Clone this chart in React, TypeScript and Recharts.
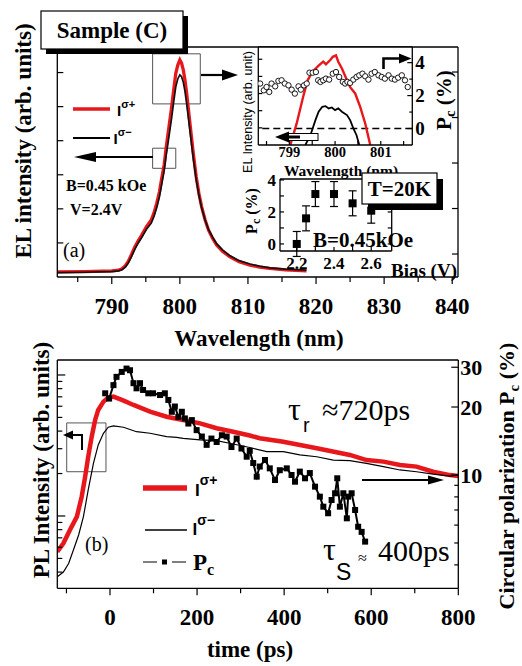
import React from 'react';
import { ComposedChart, Line, Scatter, XAxis, YAxis, ReferenceArea, ReferenceLine, ErrorBar } from 'recharts';

const SERIF = "'Liberation Serif','Times New Roman',Times,serif";
const SANS = "'Liberation Sans',Arial,Helvetica,sans-serif";
const RED = '#e8171c';

// ---------- Panel (a): EL spectrum ----------
const elWavelength = [782, 786, 790, 791, 791.5, 792, 792.4, 792.9, 793.4, 793.9, 794.4, 795.1, 795.8, 796.2, 796.6, 797.0, 797.3, 797.7, 798.0, 798.4, 798.8, 799.1, 799.4, 799.7, 800.0, 800.25, 800.5, 800.75, 801.0, 801.35, 801.7, 802.0, 802.4, 802.8, 803.2, 803.7, 804.2, 804.8, 805.4, 806.3, 807.3, 808.7, 810.3, 811.7, 813.2, 815.5, 818.6];
const elSigmaPlus = [0.15, 0.16, 0.18, 0.2, 0.24, 0.33, 0.45, 0.66, 0.89, 1.07, 1.23, 1.48, 1.67, 1.88, 2.16, 2.5, 2.85, 3.3, 3.82, 4.4, 5.0, 5.5, 5.98, 6.22, 6.37, 6.28, 6.08, 5.78, 5.39, 4.75, 4.12, 3.58, 2.94, 2.45, 2.06, 1.68, 1.38, 1.14, 0.94, 0.75, 0.6, 0.45, 0.35, 0.29, 0.25, 0.21, 0.18];
const elSigmaMinus = [0.13, 0.14, 0.16, 0.18, 0.21, 0.29, 0.4, 0.6, 0.82, 1.0, 1.16, 1.4, 1.58, 1.78, 2.03, 2.35, 2.68, 3.12, 3.58, 4.12, 4.68, 5.15, 5.58, 5.82, 5.93, 5.88, 5.72, 5.45, 5.08, 4.5, 3.92, 3.44, 2.86, 2.4, 2.03, 1.68, 1.4, 1.17, 0.98, 0.79, 0.63, 0.48, 0.38, 0.32, 0.27, 0.23, 0.2];
const elXTicks = [785, 790, 795, 800, 805, 810, 815, 820, 825, 830, 835, 840];
const elXLabels = [790, 800, 810, 820, 830, 840];
const elLeftTicks = [1, 2, 3, 4, 5, 6];
const elRightTicks = [0, 1, 2, 3, 4];

// ---------- Inset: zoom on the peak ----------
const zoomRedWl = [799.02, 799.16, 799.3, 799.4, 799.5, 799.64, 799.74, 799.8, 799.9, 799.95, 800.02, 800.07, 800.15, 800.26, 800.33, 800.44, 800.55, 800.66, 800.77];
const zoomRedI = [0, 22, 49, 66, 74.5, 81, 85, 82.4, 87, 90, 91.5, 85, 78, 66, 59, 52.6, 39, 22, 0];
const zoomBlackWl = [799.35, 799.46, 799.57, 799.64, 799.72, 799.79, 799.86, 799.93, 800.0, 800.07, 800.15, 800.26, 800.33, 800.4, 800.47, 800.53];
const zoomBlackI = [0, 10, 25.4, 34, 39, 39.7, 37.3, 38.3, 35.6, 37.3, 34, 30.5, 25.4, 17, 10, 0];
const zoomPcWl = [798.36, 798.44, 798.5, 798.56, 798.61, 798.69, 798.76, 798.83, 798.9, 798.98, 799.05, 799.12, 799.2, 799.25, 799.32, 799.38, 799.44, 799.51, 799.58, 799.63, 799.68, 799.74, 799.8, 799.87, 799.95, 800.02, 800.09, 800.17, 800.22, 800.27, 800.33, 800.4, 800.47, 800.53, 800.6, 800.66, 800.73, 800.8, 800.87, 800.95, 801.02, 801.09, 801.17, 801.24, 801.31, 801.38, 801.46, 801.53, 801.59];
const zoomPc = [2.73, 2.32, 2.52, 2.22, 2.73, 2.56, 2.89, 2.93, 2.73, 2.62, 2.36, 2.12, 2.56, 2.36, 2.62, 2.73, 3.39, 3.39, 3.43, 2.93, 2.83, 2.93, 3.03, 2.97, 3.33, 3.43, 3.13, 2.83, 2.73, 2.83, 2.77, 2.97, 3.13, 3.23, 3.33, 3.17, 2.97, 3.33, 3.43, 3.23, 3.13, 3.03, 3.23, 3.03, 2.97, 3.09, 3.23, 2.93, 2.52];
const zoomXTicks = [798.5, 799, 799.5, 800, 800.5, 801, 801.5];
const zoomXLabels = [799, 800, 801];
const zoomPcTicks = [0, 1, 2, 3, 4];
const zoomPcLabels = [0, 2, 4];
const zoomITicks = [17.5, 35, 52.5, 70, 87.5];

// ---------- Inset: Pc vs bias ----------
const biasV = [2.2, 2.25, 2.3, 2.4, 2.5, 2.6];
const biasPc = [0, 1.6, 3.12, 3.12, 2.54, 2.08];
const biasErr = [0.78, 0.78, 0.78, 0.78, 0.78, 0.78];
const biasXTicks = [2.2, 2.3, 2.4, 2.5, 2.6];
const biasXLabels = [2.2, 2.4, 2.6];
const biasYTicks = [0, 1, 2, 3, 4];
const biasYLabels = [0, 2, 4];

// ---------- Panel (b): time resolved PL ----------
const trTimePlus = [-121, -107, -92, -76, -65, -57, -50, -42, -34, -27, -15, -4, 8, 30, 54, 92, 130, 168, 207, 245, 283, 321, 344, 398, 475, 551, 589, 628, 666, 704, 742, 781, 800];
const trPlus = [0.558, 0.64, 0.796, 0.99, 1.37, 1.9, 2.63, 3.65, 4.8, 5.65, 6.47, 6.91, 7.02, 6.6, 6.13, 5.5, 5.06, 4.8, 4.54, 4.19, 3.96, 3.72, 3.56, 3.36, 3.02, 2.71, 2.49, 2.43, 2.3, 2.24, 2.06, 1.95, 1.92];
const trTimeMinus = [-121, -107, -95, -84, -72, -61, -50, -38, -27, -15, -4, 8, 31, 61, 92, 130, 153, 168, 207, 245, 283, 321, 360, 398, 436, 475, 513, 551, 589, 628, 666, 704, 742, 781, 800];
const trMinus = [0.37, 0.4, 0.46, 0.574, 0.733, 0.99, 1.53, 2.36, 3.19, 3.86, 4.26, 4.35, 4.26, 3.96, 3.86, 3.65, 3.61, 3.55, 3.46, 3.42, 3.24, 3.06, 2.86, 2.86, 2.71, 2.63, 2.49, 2.47, 2.36, 2.24, 2.12, 2.06, 1.98, 1.92, 1.95];
const pcTime = [-11, -2, 8, 15, 27, 38, 46, 54, 61, 69, 76, 88, 99, 115, 126, 134, 142, 149, 157, 165, 172, 180, 188, 199, 211, 222, 233, 245, 257, 268, 279, 291, 302, 314, 321, 329, 337, 344, 356, 367, 379, 390, 406, 417, 425, 436, 448, 459, 471, 482, 490, 501, 509, 517, 522, 528, 536, 544, 547, 555, 563, 570, 578, 586];
const pcValue = [23, 21.8, 25, 27.2, 28.6, 29.6, 29.1, 25.5, 24.2, 25.5, 23.8, 23, 23, 22.6, 23, 21.5, 19.05, 20.1, 18.1, 19.05, 17.8, 16.9, 17.5, 15.8, 14.8, 13.6, 14.5, 14.0, 15.0, 14.8, 13.3, 14.5, 13.1, 12.05, 12.8, 11.3, 9.83, 10.9, 11.65, 10.7, 9.5, 10.5, 10.7, 10, 9.34, 10.35, 9.67, 10.2, 8.88, 8.02, 7.24, 6.77, 7.75, 8.3, 9.67, 7.24, 8.3, 6.43, 8.02, 8.3, 7.0, 5.9, 5.6, 5.07];
const trXTicks = [-100, 0, 100, 200, 300, 400, 500, 600, 700, 800];
const trXLabels = [0, 200, 400, 600, 800];
const trLeftTicks = [0.4, 0.5, 0.6, 0.7, 0.8, 0.9, 1, 2, 3, 4, 5, 6, 7, 8, 9, 10];
const trRightTicks = [4, 5, 6, 7, 8, 9, 10, 20, 30];
const trRightLabels = [10, 20, 30];

const zip = (xs: number[], ys: number[]) => xs.map((x, i) => ({ x, y: ys[i] }));
const has = (arr: number[], v: number) => arr.some((a) => Math.abs(a - v) < 1e-6);

type TickCfg = {
  side: 'b' | 't' | 'l' | 'r';
  len: (v: number) => number; // positive = outward
  labels?: number[];
  fmt?: (v: number) => string;
  size?: number;
  gap?: number;
};

function makeTick(c: TickCfg) {
  return (p: any) => {
    const v = Number(p.payload && p.payload.value);
    const L = c.len(v);
    const x = p.x;
    const y = p.y;
    let x2 = x;
    let y2 = y;
    if (c.side === 'b') y2 = y + L;
    else if (c.side === 't') y2 = y - L;
    else if (c.side === 'l') x2 = x - L;
    else x2 = x + L;
    let txt: any = null;
    if (c.labels && has(c.labels, v)) {
      const s = c.fmt ? c.fmt(v) : String(v);
      const common = { fontFamily: SERIF, fontWeight: 'bold', fontSize: c.size || 20, fill: '#000' } as any;
      if (c.side === 'b') txt = <text x={x} y={y + (c.gap || 0)} textAnchor="middle" {...common}>{s}</text>;
      else if (c.side === 'l') txt = <text x={x - (c.gap || 0)} y={y} dy="0.35em" textAnchor="end" {...common}>{s}</text>;
      else if (c.side === 'r') txt = <text x={x + (c.gap || 0)} y={y} dy="0.35em" textAnchor="start" {...common}>{s}</text>;
    }
    return (
      <g>
        {L !== 0 && <line x1={x} y1={y} x2={x2} y2={y2} stroke="#000" strokeWidth={1.2} />}
        {txt}
      </g>
    );
  };
}

const AX = { stroke: '#000', strokeWidth: 1.3 };
const abs: React.CSSProperties = { position: 'absolute', left: 0, top: 0 };

// plot rectangle -> chart margin, given 1px axes on every side
const mg = (l: number, t: number, r: number, b: number) => ({ left: l - 1, top: t - 1, right: 522 - r - 1, bottom: 666 - b - 1 });

function Arrow({ x1, y1, x2, y2, w = 2, head = 15, hw = 5 }: any) {
  const dx = x2 - x1;
  const dy = y2 - y1;
  const d = Math.sqrt(dx * dx + dy * dy);
  const ux = dx / d;
  const uy = dy / d;
  const bx = x2 - ux * head;
  const by = y2 - uy * head;
  const px = -uy * hw;
  const py = ux * hw;
  return (
    <g>
      <line x1={x1} y1={y1} x2={bx + ux * 2} y2={by + uy * 2} stroke="#000" strokeWidth={w} />
      <polygon points={`${x2},${y2} ${bx + px},${by + py} ${bx - px},${by - py}`} fill="#000" />
    </g>
  );
}

export default function App() {
  const elData = elWavelength.map((w, i) => ({ x: w, plus: elSigmaPlus[i], minus: elSigmaMinus[i] }));
  const zoomRed = zip(zoomRedWl, zoomRedI);
  const zoomBlack = zip(zoomBlackWl, zoomBlackI);
  const zoomCirc = zip(zoomPcWl, zoomPc);
  const biasData = biasV.map((v, i) => ({ x: v, y: biasPc[i], err: biasErr[i] }));
  const plusData = zip(trTimePlus, trPlus);
  const minusData = zip(trTimeMinus, trMinus);
  const pcData = zip(pcTime, pcValue);

  const serifB = { fontFamily: SERIF, fontWeight: 'bold' } as any;
  const ax0 = { tickSize: 0, tickMargin: 0, tickLine: false, axisLine: AX, interval: 0 as const, allowDataOverflow: true, type: 'number' as const };

  return (
    <div style={{ position: 'absolute', left: 0, top: 0, width: 522, height: 666, background: '#fff', overflow: 'hidden' }}>
      {/* ---- Panel (a) main ---- */}
      <div style={abs}>
        <ComposedChart width={522} height={666} data={elData} margin={mg(57.3, 47, 458, 277)}>
          <XAxis dataKey="x" {...ax0} domain={[782, 840.85]} ticks={elXTicks} height={1}
            tick={makeTick({ side: 'b', len: (v) => (v % 10 === 0 ? 7 : 5), labels: elXLabels, size: 23, gap: 37 })} />
          <XAxis xAxisId="top" orientation="top" {...ax0} domain={[782, 840.85]} ticks={elXTicks} height={1}
            tick={makeTick({ side: 't', len: (v) => (v % 10 === 0 ? -6 : -4) })} />
          <YAxis {...ax0} domain={[0, 6.75]} ticks={elLeftTicks} width={1}
            tick={makeTick({ side: 'l', len: () => -6 })} />
          <YAxis yAxisId="r" orientation="right" {...ax0} domain={[-0.505, 4.55]} ticks={elRightTicks} width={1}
            tick={makeTick({ side: 'r', len: () => -6 })} />
          <ReferenceArea x1={796} x2={803} y1={5.08} y2={6.55} fill="#fff" fillOpacity={0} stroke="#555" strokeWidth={1} ifOverflow="visible" />
          <ReferenceArea x1={796} x2={799.4} y1={3.19} y2={3.78} fill="#fff" fillOpacity={0} stroke="#555" strokeWidth={1} ifOverflow="visible" />
          <Line dataKey="plus" type="linear" stroke={RED} strokeWidth={3.3} dot={false} activeDot={false} isAnimationActive={false} />
          <Line dataKey="minus" type="linear" stroke="#111" strokeWidth={1.7} dot={false} activeDot={false} isAnimationActive={false} />
        </ComposedChart>
      </div>

      {/* ---- Inset: zoom ---- */}
      <div style={{ position: 'absolute', left: 258.3, top: 47, width: 154, height: 98, background: '#fff' }} />
      <div style={abs}>
        <ComposedChart width={522} height={666} margin={mg(258.3, 47, 412.3, 145)}>
          <XAxis dataKey="x" {...ax0} domain={[798.32, 801.69]} ticks={zoomXTicks} height={1}
            tick={makeTick({ side: 'b', len: () => -4, labels: zoomXLabels, size: 14.5, gap: 12 })} />
          <XAxis xAxisId="top" orientation="top" {...ax0} domain={[798.32, 801.69]} ticks={zoomXTicks} height={1}
            tick={makeTick({ side: 't', len: () => -4 })} />
          <YAxis {...ax0} domain={[0, 100]} ticks={zoomITicks} width={1}
            tick={makeTick({ side: 'l', len: () => -4 })} />
          <YAxis yAxisId="pc" orientation="right" {...ax0} domain={[-1, 4.95]} ticks={zoomPcTicks} width={1}
            tick={makeTick({ side: 'r', len: (v) => (v % 2 === 0 ? -5 : -3), labels: zoomPcLabels, size: 19, gap: 3 })} />
          <ReferenceLine yAxisId="pc" y={0} stroke="#000" strokeWidth={1.5} strokeDasharray="7 4" />
          <Line data={zoomRed} dataKey="y" type="linear" stroke={RED} strokeWidth={2.4} dot={false} activeDot={false} isAnimationActive={false} />
          <Line data={zoomBlack} dataKey="y" type="linear" stroke="#000" strokeWidth={1.8} dot={false} activeDot={false} isAnimationActive={false} />
          <Scatter data={zoomCirc} dataKey="y" yAxisId="pc" isAnimationActive={false}
            shape={(p: any) => <circle cx={p.cx} cy={p.cy} r={2.7} fill="#fff" stroke="#000" strokeWidth={0.9} />} />
        </ComposedChart>
      </div>

      {/* ---- Inset: Pc vs bias ---- */}
      <div style={{ position: 'absolute', left: 280, top: 179, width: 111.7, height: 72, background: '#fff' }} />
      <div style={abs}>
        <ComposedChart width={522} height={666} margin={mg(280, 179, 391.7, 251)}>
          <XAxis dataKey="x" {...ax0} domain={[2.11, 2.71]} ticks={biasXTicks} height={1}
            tick={makeTick({ side: 'b', len: () => -4, labels: biasXLabels, fmt: (v) => v.toFixed(1), size: 17, gap: 18 })} />
          <XAxis xAxisId="top" orientation="top" {...ax0} domain={[2.11, 2.71]} ticks={biasXTicks} height={1}
            tick={makeTick({ side: 't', len: () => -4 })} />
          <YAxis {...ax0} domain={[-0.44, 4.06]} ticks={biasYTicks} width={1}
            tick={makeTick({ side: 'l', len: () => -4, labels: biasYLabels, size: 17, gap: 4 })} />
          <YAxis yAxisId="r" orientation="right" {...ax0} domain={[-0.44, 4.06]} ticks={biasYTicks} width={1}
            tick={makeTick({ side: 'r', len: () => -4 })} />
          <Scatter data={biasData} dataKey="y" isAnimationActive={false}
            shape={(p: any) => <rect x={p.cx - 4} y={p.cy - 4} width={8} height={8} fill="#000" />}>
            <ErrorBar dataKey="err" direction="y" width={4} stroke="#000" strokeWidth={1.2} />
          </Scatter>
        </ComposedChart>
      </div>

      {/* ---- Panel (b) ---- */}
      <div style={abs}>
        <ComposedChart width={522} height={666} margin={mg(57.3, 360, 458.3, 588.3)}>
          <XAxis dataKey="x" {...ax0} domain={[-121, 800]} ticks={trXTicks} height={1}
            tick={makeTick({ side: 'b', len: (v) => (v % 200 === 0 ? 7 : 5), labels: trXLabels, size: 23, gap: 37 })} />
          <XAxis xAxisId="top" orientation="top" {...ax0} domain={[-121, 800]} ticks={trXTicks} height={1}
            tick={makeTick({ side: 't', len: () => 0 })} />
          <YAxis {...ax0} scale="log" domain={[0.307, 12.77]} ticks={trLeftTicks} width={1}
            tick={makeTick({ side: 'l', len: (v) => (v === 1 || v === 10 ? -8 : -5) })} />
          <YAxis yAxisId="pc" orientation="right" {...ax0} scale="log" domain={[3.15, 32.3]} ticks={trRightTicks} width={1}
            tick={makeTick({ side: 'r', len: (v) => (v % 10 === 0 ? -7 : -4), labels: trRightLabels, size: 22, gap: 2 })} />
          <ReferenceArea x1={-99.4} x2={-9.2} y1={2.06} y2={4.57} fill="#fff" fillOpacity={0} stroke="#555" strokeWidth={1} ifOverflow="visible" />
          <Line data={plusData} dataKey="y" type="linear" stroke={RED} strokeWidth={4.5} dot={false} activeDot={false} isAnimationActive={false} />
          <Line data={minusData} dataKey="y" type="linear" stroke="#000" strokeWidth={1.2} dot={false} activeDot={false} isAnimationActive={false} />
          <Line data={pcData} dataKey="y" yAxisId="pc" type="linear" stroke="#000" strokeWidth={2} activeDot={false} isAnimationActive={false}
            dot={(p: any) => <rect key={'s' + p.index} x={p.cx - 3} y={p.cy - 3} width={6} height={6} fill="#000" />} />
        </ComposedChart>
      </div>

      {/* ---- Annotations ---- */}
      <svg width={522} height={666} style={abs}>
        {/* Sample (C) */}
        <rect x={46} y={16} width={142} height={38} fill="#000" />
        <rect x={41} y={11} width={142} height={38} fill="#fff" stroke="#000" strokeWidth={1.2} />
        <text x={112} y={38} textAnchor="middle" {...serifB} fontSize={23}>Sample (C)</text>

        {/* axis titles panel (a) */}
        <text transform="translate(23,141) rotate(-90)" textAnchor="middle" dy="0.35em" {...serifB} fontSize={23}>EL intensity (arb. units)</text>
        <text x={259} y={346} textAnchor="middle" {...serifB} fontSize={23}>Wavelength (nm)</text>

        {/* legend (a) */}
        <line x1={73} y1={109} x2={110} y2={109} stroke={RED} strokeWidth={3.5} />
        <text x={117} y={116} fontFamily={SANS} fontWeight="bold" fontSize={15}>I<tspan dy={-8} fontSize={11}>σ+</tspan></text>
        <line x1={73} y1={138} x2={110} y2={138} stroke="#000" strokeWidth={1.8} />
        <text x={113.5} y={144} fontFamily={SANS} fontWeight="bold" fontSize={15}>I<tspan dy={-8} fontSize={11}>σ−</tspan></text>

        <Arrow x1={153} y1={157} x2={74} y2={157} w={2.2} head={22} hw={5} />
        <Arrow x1={201} y1={75} x2={238} y2={75} w={2.2} head={16} hw={5.5} />
        <text x={66} y={191} {...serifB} fontSize={16}>B=0.45 kOe</text>
        <text x={70} y={215} {...serifB} fontSize={16}>V=2.4V</text>
        <text x={63} y={257} fontFamily={SERIF} fontSize={20}>(a)</text>

        {/* inset zoom labels */}
        <text transform="translate(247.5,112) rotate(-90)" textAnchor="middle" dy="0.35em" fontFamily={SANS} fontSize={12.5}>EL Intensity (arb. unit)</text>
        <text x={341} y={175.5} textAnchor="middle" {...serifB} fontSize={15.5}>Wavelength (nm)</text>
        <text transform="translate(444,100) rotate(-90)" textAnchor="middle" dy="0.35em" {...serifB} fontSize={21}>P<tspan dy={4} fontSize={15}>c</tspan><tspan dy={-4}> (%)</tspan></text>
        <rect x={288} y={133.5} width={30} height={7} fill="#fff" stroke="#000" strokeWidth={1} />
        <line x1={286} y1={137} x2={300} y2={137} stroke="#000" strokeWidth={3} />
        <polygon points="275,137 289,131.5 289,142.5" fill="#000" />
        <polyline points="383.5,69 383.5,58.5 400,58.5" fill="none" stroke="#000" strokeWidth={2.6} />
        <polygon points="411.5,58.5 399,53.5 399,63.5" fill="#000" />

        {/* inset bias labels */}
        <text transform="translate(251,211) rotate(-90)" textAnchor="middle" dy="0.35em" {...serifB} fontSize={16}>P<tspan dy={3} fontSize={12}>c</tspan><tspan dy={-3}> (%)</tspan></text>
        <text x={391} y={277} {...serifB} fontSize={19}>Bias (V)</text>
        <text x={313} y={247} {...serifB} fontSize={21}>B=0.45kOe</text>
        <rect x={368} y={179} width={75} height={31} fill="#000" />
        <rect x={362} y={173} width={75} height={31} fill="#fff" stroke="#000" strokeWidth={1.2} />
        <text x={399.5} y={196} textAnchor="middle" {...serifB} fontSize={21}>T=20K</text>

        {/* panel (b) titles */}
        <text transform="translate(41,460) rotate(-90)" textAnchor="middle" dy="0.35em" {...serifB} fontSize={23}>PL Intensity (arb. units)</text>
        <text x={250} y={657} textAnchor="middle" {...serifB} fontSize={23}>time (ps)</text>
        <text transform="translate(506,476) rotate(-90)" textAnchor="middle" dy="0.35em" {...serifB} fontSize={22}>Circular polarization P<tspan dy={5} fontSize={15}>c</tspan><tspan dy={-5}> (%)</tspan></text>

        {/* legend (b) */}
        <line x1={143} y1={488} x2={187} y2={488} stroke={RED} strokeWidth={5.5} />
        <text x={195} y={496} fontFamily={SANS} fontWeight="bold" fontSize={17}>I<tspan dy={-11} fontSize={14}>σ+</tspan></text>
        <line x1={145} y1={530} x2={187} y2={530} stroke="#000" strokeWidth={1.3} />
        <text x={192.5} y={535} fontFamily={SANS} fontWeight="bold" fontSize={17}>I<tspan dy={-10} fontSize={14}>σ−</tspan></text>
        <line x1={143} y1={562} x2={157} y2={562} stroke="#000" strokeWidth={1} />
        <rect x={162} y={559.5} width={5} height={5} fill="#000" />
        <line x1={172} y1={562} x2={186} y2={562} stroke="#000" strokeWidth={1} />
        <text x={193} y={570} {...serifB} fontSize={23}>P<tspan dy={5} fontSize={16}>c</tspan></text>
        <text x={85} y={551} fontFamily={SERIF} fontSize={20}>(b)</text>

        <polyline points="82,450 82,435 72,435" fill="none" stroke="#000" strokeWidth={2} />
        <polygon points="63,435 73,430.5 73,439.5" fill="#000" />
        <Arrow x1={362} y1={480} x2={444} y2={480} w={1.8} head={16} hw={4.5} />

        <text x={288} y={420} fontFamily={SERIF} fontSize={32}>τ</text>
        <text x={303} y={432} fontFamily={SANS} fontSize={20}>r</text>
        <text x={322} y={420} fontFamily={SERIF} fontSize={30}>≈720ps</text>
        <text x={323} y={560} fontFamily={SERIF} fontSize={32}>τ</text>
        <text x={336} y={580} fontFamily={SANS} fontSize={23}>S</text>
        <text x={358} y={563} fontFamily={SERIF} fontSize={16}>≈</text>
        <text x={378} y={561} fontFamily={SERIF} fontSize={30}>400ps</text>
      </svg>
    </div>
  );
}
